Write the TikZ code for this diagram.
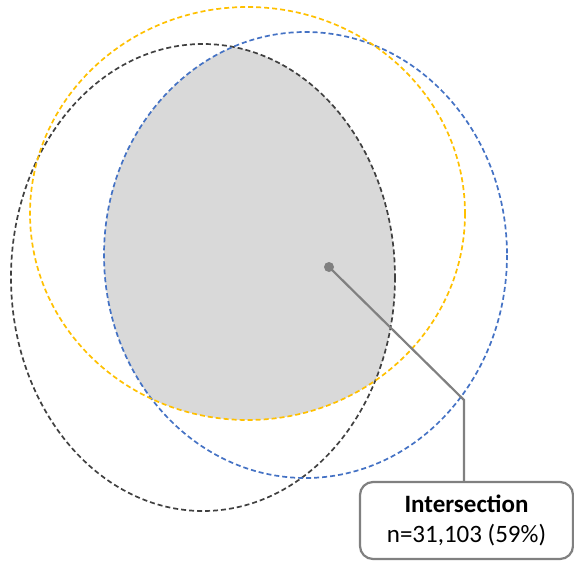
\documentclass[tikz,border=0pt]{standalone}
\usepackage{fontspec}
\setmainfont{Carlito}
\definecolor{cyel}{HTML}{FFC000}
\definecolor{cblu}{HTML}{4472C4}
\definecolor{cblk}{HTML}{404040}
\definecolor{cgry}{HTML}{808080}
\definecolor{cfill}{HTML}{D9D9D9}
\begin{document}
\begin{tikzpicture}[x=1pt,y=-1pt,
  setline/.style={line width=1.7pt, dash pattern=on 5pt off 3pt},
  callout/.style={draw=cgry, line width=2.2pt, rounded corners=13pt, fill=white, minimum width=213pt, minimum height=77pt, inner sep=0pt, font=\fontsize{25}{30}\selectfont, align=center},
  dotnode/.style={circle, fill=cgry, inner sep=0pt, minimum size=10pt}]
\useasboundingbox (0,0) rectangle (574,562);
% intersection fill
\begin{scope}
  \clip (247.5,213.5) ellipse [x radius=217.5, y radius=206.5];
  \clip (305.5,255) ellipse [x radius=201.5, y radius=223];
  \fill[cfill] (203,277.5) ellipse [x radius=192, y radius=233.5];
\end{scope}
\draw[setline, cblk] (203,277.5) ellipse [x radius=192, y radius=233.5];
\draw[setline, cblu] (305.5,255) ellipse [x radius=201.5, y radius=223];
\draw[setline, cyel] (247.5,213.5) ellipse [x radius=217.5, y radius=206.5];
% callout
\node[dotnode] (dot) at (329,267) {};
\coordinate (bend) at (464,400);
\node[callout] (lbl) at (466.5,520.5) {\textbf{Intersection}\\n=31,103 (59\%)};
\draw[cgry, line width=2.2pt] (dot.center) -- (bend) -- (lbl.north -| bend);
\end{tikzpicture}
\end{document}
